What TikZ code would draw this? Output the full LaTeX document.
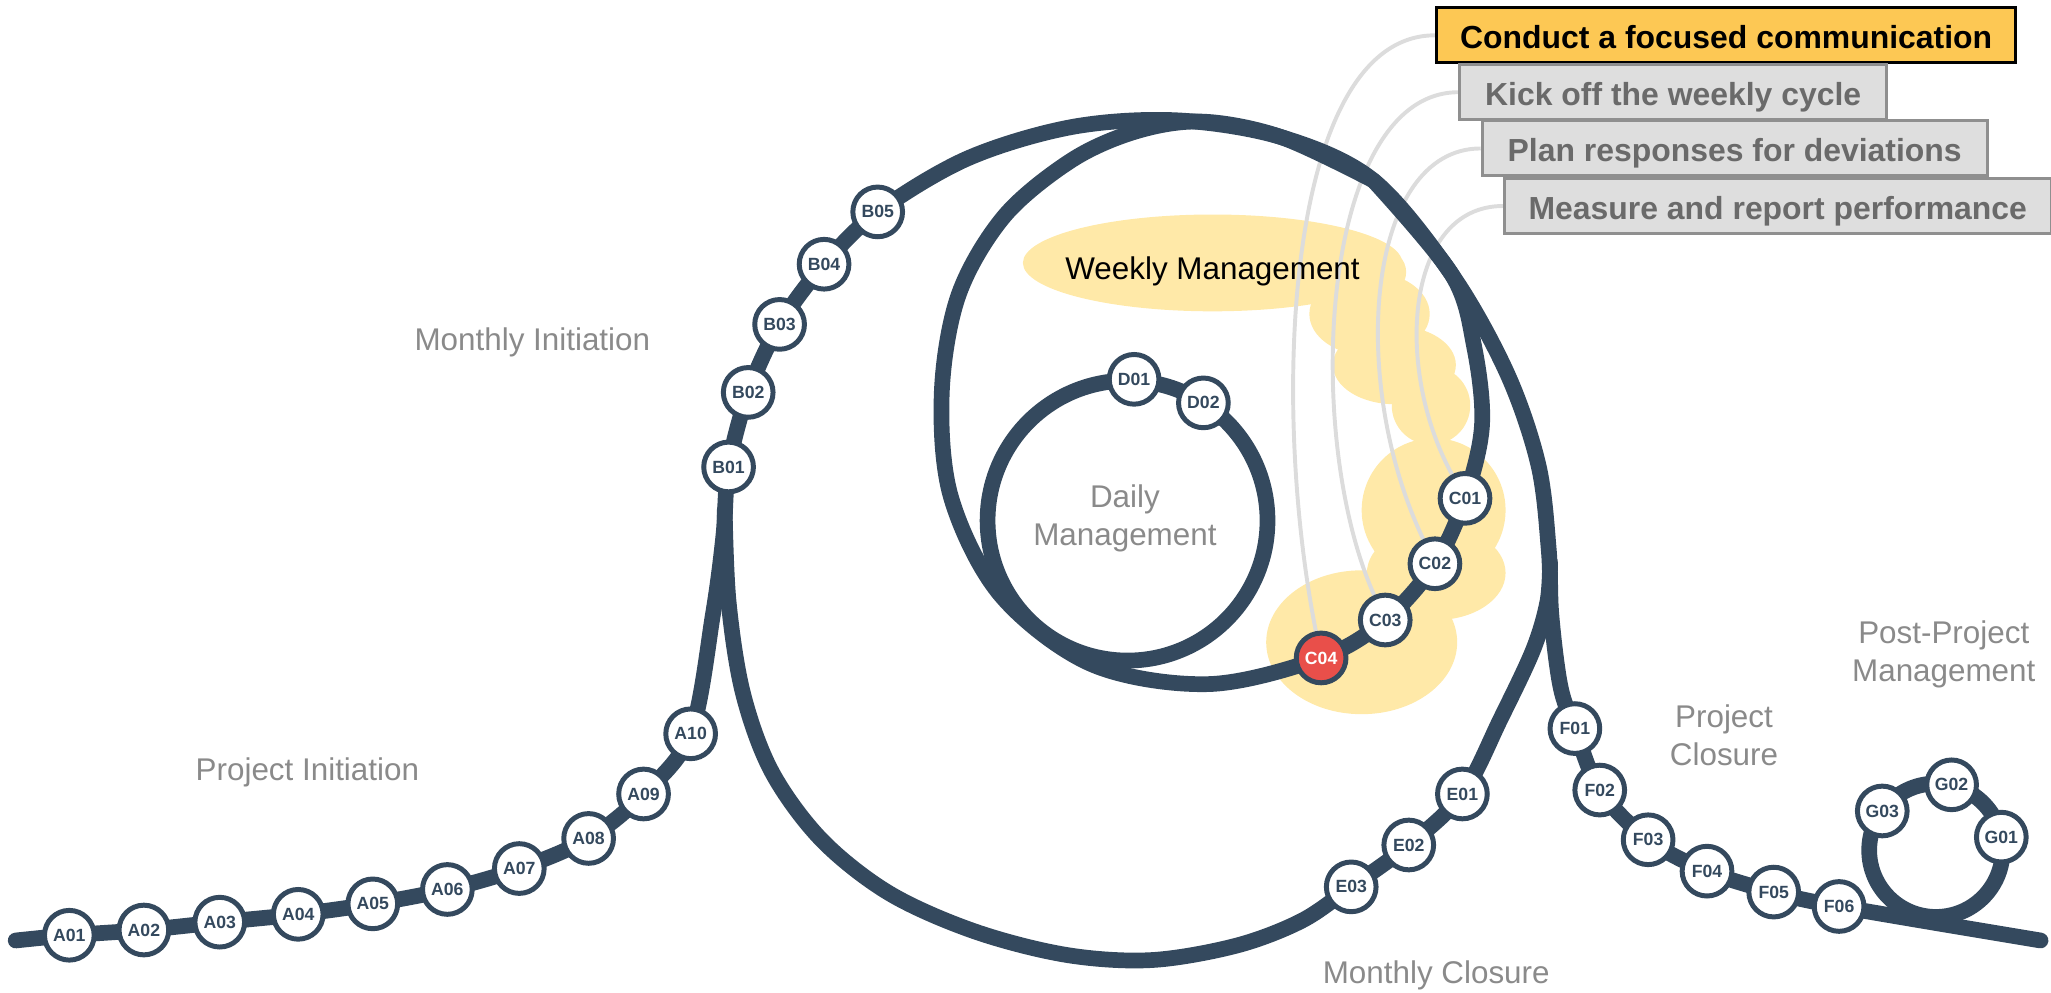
\documentclass[tikz,border=0pt]{standalone}
\usepackage{fontspec}
\setmainfont{Liberation Sans}
\definecolor{trackc}{HTML}{34495E}
\definecolor{redc}{HTML}{E94F4A}
\definecolor{blobc}{HTML}{FFE9A8}
\definecolor{grayl}{HTML}{DCDCDC}
\definecolor{labelc}{HTML}{8A8A8A}
\definecolor{hibox}{HTML}{FDC854}
\definecolor{boxfill}{HTML}{DEDEDE}
\definecolor{boxdraw}{HTML}{8F8F8F}
\definecolor{boxtext}{HTML}{6A6A6A}
\pgfdeclarelayer{blob}
\pgfdeclarelayer{gray}
\pgfdeclarelayer{trk}
\pgfsetlayers{blob,gray,trk,main}
\tikzset{
  trackline/.style={draw=trackc, line width=12pt, line cap=round, line join=round},
  stn/.style={circle, draw=trackc, fill=white, line width=3.8pt, minimum size=38pt, inner sep=0pt, text=trackc, font=\fontsize{13.5}{13.5}\selectfont\bfseries},
  hot/.style={stn, fill=redc, text=white},
  lbl/.style={text=labelc, font=\fontsize{24}{29}\selectfont, align=center},
  conn/.style={draw=grayl, line width=3pt},
  tbox/.style={anchor=west, line width=2.3pt, minimum height=42pt, inner xsep=0pt, text height=22pt, text depth=2pt, font=\fontsize{24.4}{24.4}\selectfont\bfseries},
  gbox/.style={tbox, fill=boxfill, draw=boxdraw, text=boxtext},
  ybox/.style={tbox, fill=hibox, draw=black, text=black},
}
\begin{document}
\begin{tikzpicture}[x=1pt,y=-1pt]
\useasboundingbox (0,0) rectangle (1568,759);
% stations
\node[stn] (A01) at (53,715) {A01};
\node[stn] (A02) at (110,711) {A02};
\node[stn] (A03) at (168,705) {A03};
\node[stn] (A04) at (228,699) {A04};
\node[stn] (A05) at (285,691) {A05};
\node[stn] (A06) at (342,680) {A06};
\node[stn] (A07) at (397,664) {A07};
\node[stn] (A08) at (450,641) {A08};
\node[stn] (A09) at (492,607) {A09};
\node[stn] (A10) at (528,561) {A10};
\node[stn] (B01) at (557,357) {B01};
\node[stn] (B02) at (572,300) {B02};
\node[stn] (B03) at (596,248) {B03};
\node[stn] (B04) at (630,202) {B04};
\node[stn] (B05) at (671,162) {B05};
\node[stn] (C01) at (1120,381) {C01};
\node[stn] (C02) at (1097,431) {C02};
\node[stn] (C03) at (1059,474) {C03};
\node[hot] (C04) at (1010,503) {C04};
\node[stn] (D01) at (867,290) {D01};
\node[stn] (D02) at (920,308) {D02};
\node[stn] (E01) at (1118,607) {E01};
\node[stn] (E02) at (1077,646) {E02};
\node[stn] (E03) at (1033,678) {E03};
\node[stn] (F01) at (1204,557) {F01};
\node[stn] (F02) at (1223,604) {F02};
\node[stn] (F03) at (1260,642) {F03};
\node[stn] (F04) at (1305,666) {F04};
\node[stn] (F05) at (1356,682) {F05};
\node[stn] (F06) at (1406,693) {F06};
\node[stn] (G01) at (1530,640) {G01};
\node[stn] (G02) at (1492,600) {G02};
\node[stn] (G03) at (1439,620) {G03};
% labels
\node[lbl, anchor=base] (mi) at (407,268) {Monthly Initiation};
\node[lbl, anchor=base] (pi) at (235,597) {Project Initiation};
\node[lbl] (dm) at (860,396) {Daily\\Management};
\node[anchor=base, font=\fontsize{24}{29}\selectfont, text=black] (wm) at (927,214) {Weekly Management};
\node[lbl, anchor=base] (mc) at (1098,752) {Monthly Closure};
\node[lbl] (pc) at (1318,562) {Project\\Closure};
\node[lbl] (ppm) at (1486,500) {Post-Project\\Management};
% boxes
\node[ybox, minimum width=443pt] (b1) at (1097,27) {Conduct a focused communication};
\node[gbox, minimum width=326pt] (b2) at (1115,70.5) {Kick off the weekly cycle};
\node[gbox, minimum width=386pt] (b3) at (1132,113.5) {Plan responses for deviations};
\node[gbox, minimum width=418pt] (b4) at (1149,157.5) {Measure and report performance};
% yellow highlight
\begin{pgfonlayer}{blob}
\fill[blobc] (927,201) ellipse[x radius=145pt, y radius=37pt];
\fill[blobc] (1058,208) circle[radius=17pt];
\fill[blobc] (1047,240) ellipse[x radius=46pt, y radius=32pt];
\fill[blobc] (1066,279) ellipse[x radius=47pt, y radius=30pt];
\fill[blobc] (1094,310) circle[radius=30pt];
\fill[blobc] (1096,390) circle[radius=55pt];
\fill[blobc] (1098,438) ellipse[x radius=53pt, y radius=36pt];
\fill[blobc] (1041,491) ellipse[x radius=73pt, y radius=55pt];
\end{pgfonlayer}
% grey connectors
\begin{pgfonlayer}{gray}
\draw[conn] (b1.west) .. controls (985,27) and (970,300) .. (C04);
\draw[conn] (b2.west) .. controls (1010,70.5) and (995,330) .. (C03);
\draw[conn] (b3.west) .. controls (1045,113.5) and (1030,290) .. (C02);
\draw[conn] (b4.west) .. controls (1075,157.5) and (1065,280) .. (C01);
\end{pgfonlayer}
% track
\begin{pgfonlayer}{trk}
\draw[trackline] plot[smooth, tension=0.55] coordinates {(12,719) (A01.center) (A02.center) (A03.center) (A04.center) (A05.center) (A06.center) (A07.center) (A08.center) (A09.center) (A10.center) (545,470) (553,410) (B01.center) (B02.center) (B03.center) (B04.center) (B05.center) (740,121) (820,97) (900,92) (980,105) (1050,138) (1110,210) (1152,285) (1176,355) (1184,420) (1186,470) (1193,525) (F01.center) (F02.center) (F03.center) (F04.center) (F05.center) (F06.center) (1560,719)};
\draw[trackline] plot[smooth, tension=0.55] coordinates {(554,390) (557,460) (568,530) (590,590) (628,642) (680,683) (745,712) (815,730) (880,734) (945,723) (995,704) (E03.center) (E02.center) (E01.center) (1147,550) (1172,497) (1183,460) (1185,430)};
\draw[trackline] plot[smooth, tension=0.55] coordinates {(1050,138) (1110,210) (1127,265) (1133,325) (C01.center) (C02.center) (C03.center) (C04.center) (924,523) (835,508) (765,455) (727,380) (720,300) (733,225) (768,165) (820,122) (870,100) (920,93) (980,105) (1050,138)};
\draw[trackline] (862,398) circle[radius=107pt];
\draw[trackline] (1480,650) circle[radius=51pt];
\end{pgfonlayer}
\end{tikzpicture}
\end{document}
